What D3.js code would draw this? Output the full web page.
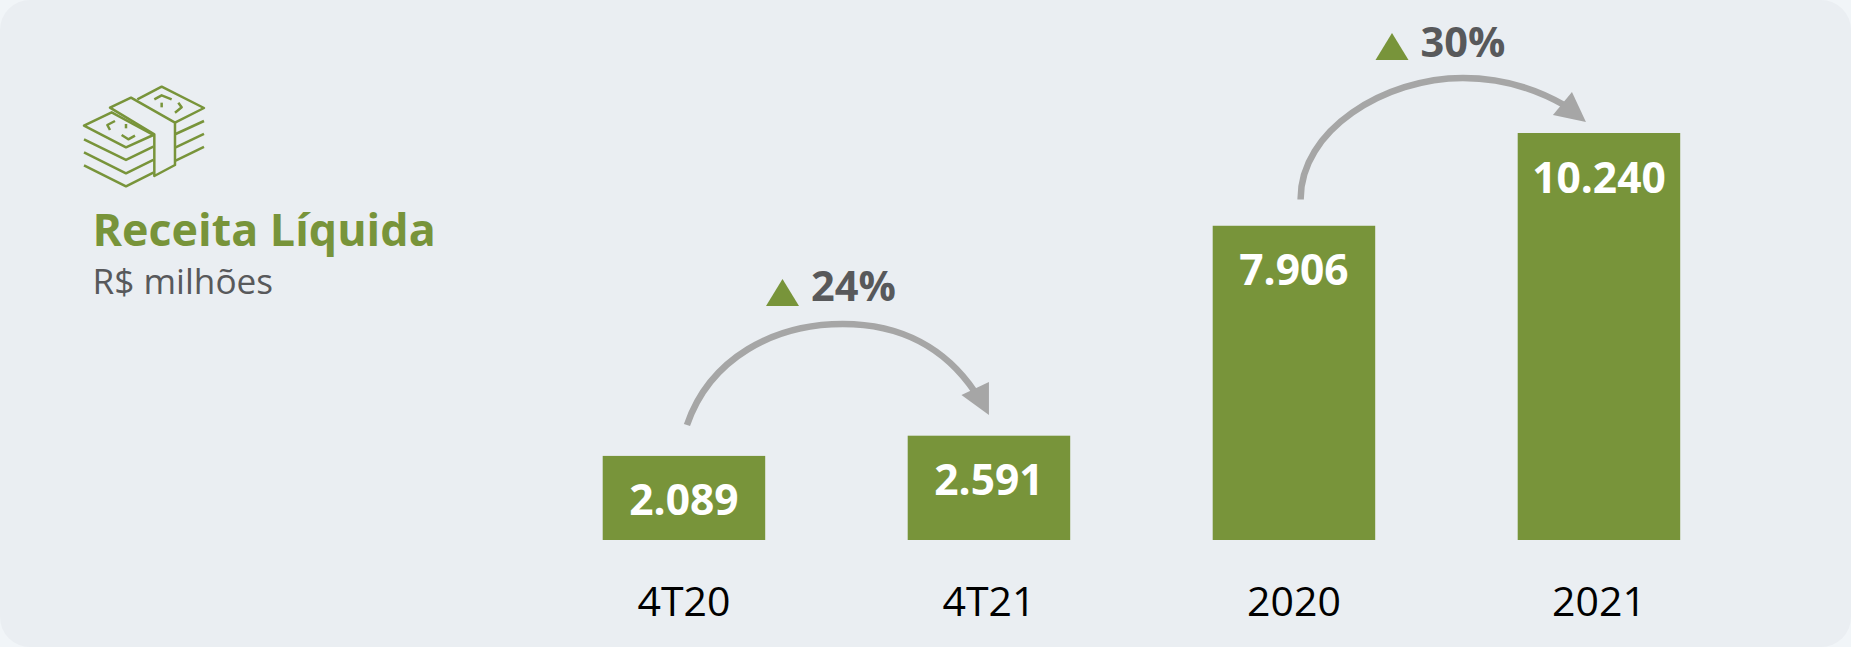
<!DOCTYPE html>
<html><head><meta charset="utf-8">
<script src="https://cdnjs.cloudflare.com/ajax/libs/d3/7.8.5/d3.min.js"></script>
<style>html,body{margin:0;padding:0;background:#F1F5F8}svg{display:block}text{font-family:"Open Sans","Noto Sans",sans-serif}</style>
</head><body><svg id="c" width="1851" height="647"></svg>
<script>
const categories = ["4T20","4T21","2020","2021"];
const quarterValues = [2089,2591];
const yearValues = [7906,10240];
const valueLabels = ["2.089","2.591","7.906","10.240"];
const changeLabels = ["24%","30%"];
const title = "Receita Líquida";
const subtitle = "R$ milhões";
const GREEN="#78943A", GRAY="#A6A6A6", DARK="#58595B";

const svg=d3.select("#c");
svg.append("rect").attr("width",1851).attr("height",647).attr("rx",30).attr("fill","#EAEEF2");

const step=305, bw=162.5;
const xb=d3.scaleBand().domain(categories).paddingInner(1-bw/step).paddingOuter(0).align(0)
  .range([602.7,602.7+3*step+bw]);
const base=540;
const yQ=d3.scaleLinear().domain([0,2591]).range([base,435.7]);
const yY=d3.scaleLinear().domain([0,10240]).range([base,133]);
const rows=[
 ...quarterValues.map((v,i)=>({c:categories[i],v,y:yQ,l:valueLabels[i]})),
 ...yearValues.map((v,i)=>({c:categories[i+2],v,y:yY,l:valueLabels[i+2]}))
];
const g=svg.append("g");
g.selectAll("rect").data(rows).join("rect")
 .attr("x",d=>xb(d.c)).attr("width",xb.bandwidth())
 .attr("y",d=>d.y(d.v)).attr("height",d=>base-d.y(d.v)).attr("fill",GREEN);
g.selectAll("text.v").data(rows).join("text").attr("class","v")
 .attr("x",d=>xb(d.c)+xb.bandwidth()/2).attr("y",d=>d.y(d.v)+59.5)
 .attr("text-anchor","middle").attr("fill","#fff").attr("font-weight",700).attr("font-size",42.5)
 .text(d=>d.l);
const axis=d3.axisBottom(xb).tickSize(0).tickPadding(0);
const ax=svg.append("g").attr("transform","translate(0,584)").call(axis);
ax.select(".domain").remove();
ax.selectAll("text").attr("font-size",41).attr("fill","#000").attr("dy",0).attr("y",31.7)
 .style("font-family",'"Open Sans","Noto Sans",sans-serif');

// growth annotations
const cx=c=>xb(c)+xb.bandwidth()/2;
function arrow(p,tip,b1,b2){
 svg.append("path").attr("d",p).attr("fill","none").attr("stroke",GRAY).attr("stroke-width",6.5);
 svg.append("path").attr("d",d3.line()([tip,b1,b2])+"Z").attr("fill",GRAY);
}
const a=cx("4T20"), b=cx("2020");
arrow(`M${a+3},425C${a+26},358 ${a+90},324 ${a+159},324C${a+218},324 ${a+262},349 ${a+291},392`,
 [cx("4T21"),415],[cx("4T21")-27.5,395],[cx("4T21"),382]);
arrow(`M${b+6.7},199.5C${b+6},130 ${b+91},78 ${b+169},78C${b+206},78 ${b+241},88 ${b+272},106`,
 [cx("2021")-13,122],[cx("2021")-46,115],[cx("2021")-27,92]);
const tri=(x0,y0)=>d3.line()([[x0,y0],[x0+33,y0],[x0+16.5,y0-27]])+"Z";
svg.append("path").attr("d",tri(766,306)).attr("fill",GREEN);
svg.append("path").attr("d",tri(1375.5,60)).attr("fill",GREEN);
svg.selectAll("text.c").data(changeLabels).join("text").attr("class","c")
 .attr("x",(d,i)=>i?1420.5:811).attr("y",(d,i)=>i?57:301)
 .attr("font-weight",700).attr("font-size",41.5).attr("fill",DARK).text(d=>d);

// title
svg.append("text").attr("x",92.5).attr("y",245.7).attr("font-weight",700).attr("font-size",44.8).attr("fill",GREEN).text(title);
svg.append("text").attr("x",92.5).attr("y",294).attr("font-size",35.2).attr("fill",DARK).text(subtitle);

// money icon
const icon=svg.append("g").attr("transform","translate(60,70) scale(.3333)").attr("fill","none").attr("stroke",GREEN).attr("stroke-width",7.5).attr("stroke-linejoin","round");
["M232,88L305,50L432,114L345,158",
 "M72,167L155,127L280,195L198,232Z",
 "M150,113L213,83L345,158V285L283,318V193Z",
 "M72,208L198,270L280,230","M72,247L198,310L280,270","M72,286L198,349L280,308",
 "M347,192L432,153","M347,232L432,192","M347,272L432,231",
 "M165,153L142,165L150,180","M185,195L205,208L225,197","M198,162V175",
 "M283,88L305,76L335,88","M345,128L365,112L355,98","M305,98V112"
].forEach(d=>icon.append("path").attr("d",d));
</script></body></html>
